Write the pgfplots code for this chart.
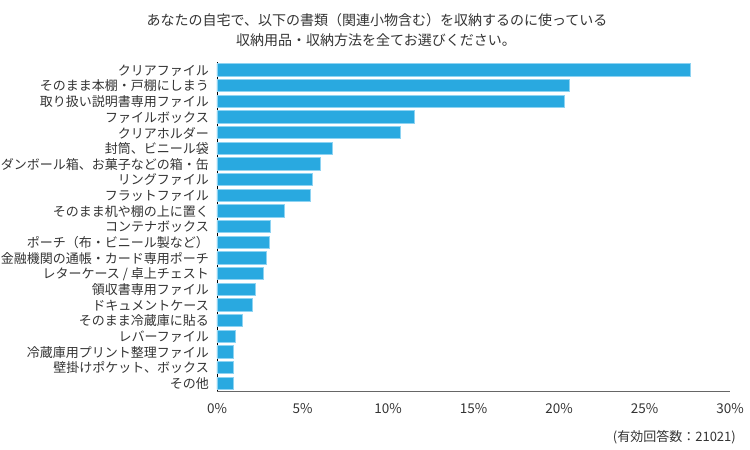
\documentclass[border=0pt]{standalone}
\usepackage{fontspec}
\setmainfont{Noto Sans CJK JP}
\usepackage{pgfplots}
\pgfplotsset{compat=1.18}
\definecolor{barblue}{HTML}{29A9E0}
\definecolor{baredge}{HTML}{8ED3F2}
\definecolor{txt}{HTML}{333333}
\begin{document}
\begin{tikzpicture}
\useasboundingbox (0pt,0pt) rectangle (750pt,450pt);
\begin{axis}[
  at={(217pt,59pt)}, anchor=south west, scale only axis,
  width=513pt, height=329pt,
  xbar, bar width=12.3pt,
  xmin=0, xmax=30, ymin=-0.5, ymax=20.5, y dir=reverse,
  axis x line*=bottom, axis y line*=left,
  x axis line style={draw=black!60, line width=0.9pt, -},
  y axis line style={draw=black, line width=0.8pt, -},
  major tick length=0pt,
  xtick={0,5,10,15,20,25,30},
  xticklabels={0\%,5\%,10\%,15\%,20\%,25\%,30\%},
  ytick={0,...,20},
  yticklabels={クリアファイル,そのまま本棚・戸棚にしまう,取り扱い説明書専用ファイル,ファイルボックス,クリアホルダー,封筒、ビニール袋,ダンボール箱、お菓子などの箱・缶,リングファイル,フラットファイル,そのまま机や棚の上に置く,コンテナボックス,ポーチ（布・ビニール製など）,金融機関の通帳・カード専用ポーチ,レターケース / 卓上チェスト,領収書専用ファイル,ドキュメントケース,そのまま冷蔵庫に貼る,レバーファイル,冷蔵庫用プリント整理ファイル,壁掛けポケット、ボックス,その他},
  yticklabel style={font=\fontsize{13}{15}\selectfont, text=txt, inner xsep=0pt, xshift=-8pt, yshift=-0.5pt},
  xticklabel style={font=\fontsize{13.5}{15}\selectfont, text=txt, yshift=-9pt},
  clip=false,
]
\addplot[fill=barblue, draw=baredge, line width=0.7pt] coordinates {
(27.7,0) (20.6,1) (20.3,2) (11.55,3) (10.75,4) (6.75,5) (6.06,6) (5.55,7) (5.45,8) (3.94,9) (3.14,10) (3.04,11) (2.86,12) (2.73,13) (2.24,14) (2.06,15) (1.47,16) (1.08,17) (0.98,18) (0.98,19) (0.98,20)
};
\end{axis}
\node[font=\fontsize{14}{16}\selectfont, text=txt] at (377pt,430pt) {あなたの自宅で、以下の書類（関連小物含む）を収納するのに使っている};
\node[font=\fontsize{14}{16}\selectfont, text=txt] at (376pt,410pt) {収納用品・収納方法を全てお選びください。};
\node[font=\fontsize{13}{15}\selectfont, text=txt, anchor=east, inner sep=0pt] at (736pt,13pt) {(有効回答数：21021)};
\end{tikzpicture}
\end{document}
